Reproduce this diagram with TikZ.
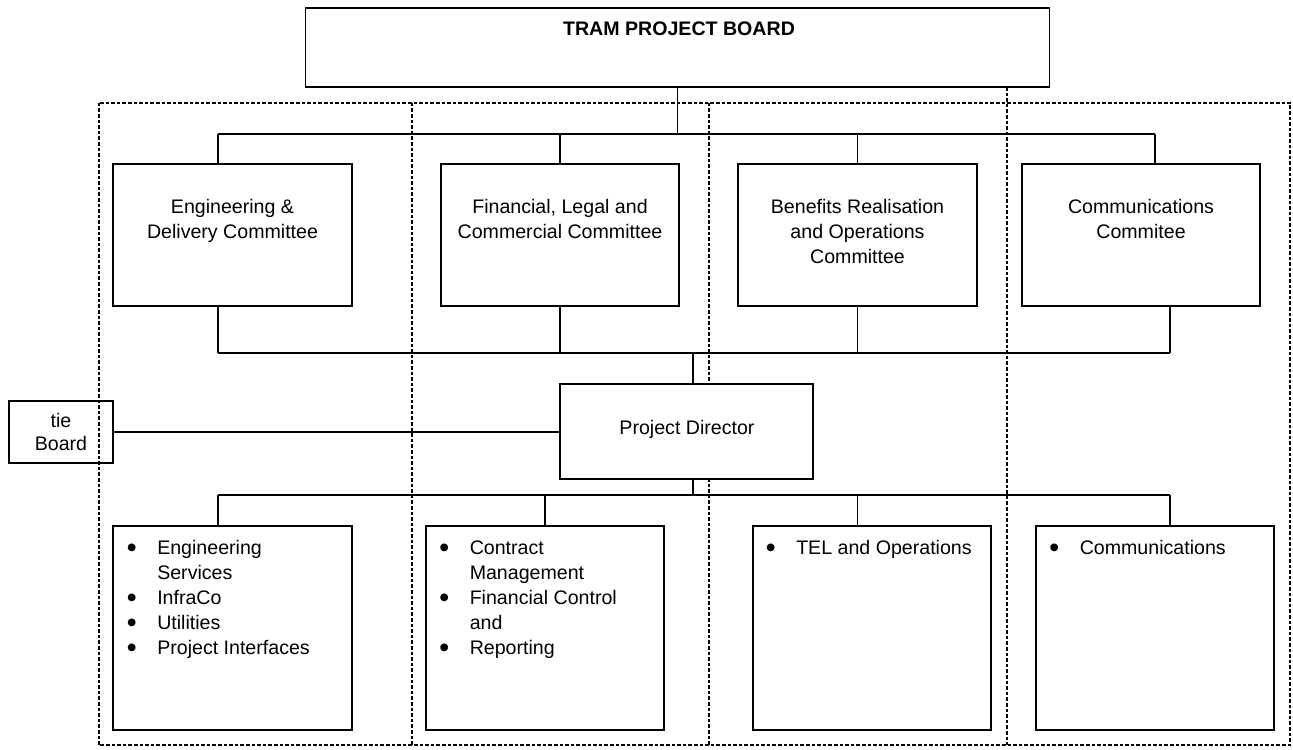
\documentclass[tikz,border=0pt]{standalone}
\usepackage{fontspec}
\setmainfont{Liberation Sans}
\newfontfamily\dejavu{DejaVu Sans}
\usetikzlibrary{calc}
\newcommand\bul{\smash{\raisebox{2.9pt}{\dejavu\fontsize{7.6}{0}\selectfont ●}}}
\begin{document}
\begin{tikzpicture}[x=0.75pt,y=-0.75pt,
  box/.style n args={2}{draw, line width=0.9pt, inner sep=0pt, fill=white,
     minimum width={#1*0.75pt}, minimum height={#2*0.75pt}},
  openbox/.style n args={2}{draw, line width=0.9pt, inner sep=0pt,
     minimum width={#1*0.75pt}, minimum height={#2*0.75pt}},
  link/.style={draw, line width=0.9pt},
  zone/.style={draw, line width=1.3pt, dash pattern=on 2.7pt off 1.5pt},
  txt/.style={inner sep=0pt, font=\fontsize{14.7}{18.75}\selectfont},
  btxt/.style={inner sep=0pt, font=\fontsize{14.7}{18.75}\selectfont\bfseries}]
\useasboundingbox (0,0) rectangle (1293,750);
\fill[white] (0,0) rectangle (1293,750);

% dashed zones
\draw[zone] (98.7,102.7) rectangle (1290,745);
\draw[zone] (412,102.7) -- (412,745);
\draw[zone] (708.7,102.7) -- (708.7,745);
\draw[zone] (1006.7,87) -- (1006.7,745);

% boxes
\node[box={744}{79}] (board) at (677.5,47.5) {};
\node[box={239}{142}] (eng) at (232.5,235) {};
\node[box={238}{142}] (fin) at (560,235) {};
\node[box={239}{142}] (ben) at (857.5,235) {};
\node[box={238}{142}] (com) at (1141,235) {};
\node[openbox={104}{62}] (tie) at (61,432) {};
\node[box={253}{95}] (pd) at (686.5,431.5) {};
\node[box={239}{204}] (la) at (232.5,628) {};
\node[box={238}{204}] (lb) at (545,628) {};
\node[box={238}{204}] (lc) at (872,628) {};
\node[box={238}{204}] (ld) at (1155,628) {};

% connectors: board to committees
\coordinate (t1) at (218,134);
\coordinate (t4) at (1155,134);
\draw[link] (t1) -- (t4);
\draw[link] (board.south) -- (board.south |- t1);
\draw[link] (t1) -- (t1 |- eng.north);
\draw[link] (fin.north) -- (fin.north |- t1);
\draw[link] (ben.north) -- (ben.north |- t1);
\draw[link] (t4) -- (t4 |- com.north);

% committees to project director
\coordinate (m1) at (218,353);
\coordinate (m2) at (693,353);
\coordinate (m4) at (1170,353);
\draw[link] (m1) -- (m4);
\draw[link] (m1 |- eng.south) -- (m1);
\draw[link] (fin.south) -- (fin.south |- m1);
\draw[link] (ben.south) -- (ben.south |- m1);
\draw[link] (m4 |- com.south) -- (m4);
\draw[link] (m2) -- (m2 |- pd.north);

% tie board
\draw[link] (tie.east) -- (tie.east -| pd.west);

% project director to work streams
\coordinate (l1) at (218,495);
\coordinate (l2) at (693,495);
\coordinate (l3) at (857.5,495);
\coordinate (l4) at (1170,495);
\draw[link] (l1) -- (l4);
\draw[link] (l2 |- pd.south) -- (l2);
\draw[link] (l1) -- (l1 |- la.north);
\draw[link] (lb.north) -- (lb.north |- l1);
\draw[link] (l3) -- (l3 |- lc.north);
\draw[link] (l4) -- (l4 |- ld.north);

% texts
\node[btxt, anchor=base] (boardT) at (679,35) {TRAM PROJECT BOARD};
\node[txt, anchor=base] (engT) at (232.5,213.5) {\begin{tabular}[t]{@{}c@{}}Engineering \&\\ Delivery Committee\end{tabular}};
\node[txt, anchor=base] (finT) at (560,213.5) {\begin{tabular}[t]{@{}c@{}}Financial, Legal and\\ Commercial Committee\end{tabular}};
\node[txt, anchor=base] (benT) at (857.5,213.5) {\begin{tabular}[t]{@{}c@{}}Benefits Realisation\\ and Operations\\ Committee\end{tabular}};
\node[txt, anchor=base] (comT) at (1141,213.5) {\begin{tabular}[t]{@{}c@{}}Communications\\ Commitee\end{tabular}};
\node[txt, anchor=base] (tieT) at (61,427) {\begin{tabular}[t]{@{}c@{}}tie\\[-1.3pt] Board\end{tabular}};
\node[txt, anchor=base] (pdT) at (687,434) {Project Director};

\node[txt, anchor=base west] (laT) at (127,554) {\begin{tabular}[t]{@{}p{22.5pt}@{}l@{}}
\bul & Engineering\\ & Services\\ \bul & InfraCo\\ \bul & Utilities\\ \bul & Project Interfaces\end{tabular}};
\node[txt, anchor=base west] (lbT) at (439.5,554) {\begin{tabular}[t]{@{}p{22.5pt}@{}l@{}}
\bul & Contract\\ & Management\\ \bul & Financial Control\\ & and\\ \bul & Reporting\end{tabular}};
\node[txt, anchor=base west] (lcT) at (766,554) {\begin{tabular}[t]{@{}p{22.5pt}@{}l@{}}
\bul & TEL and Operations\end{tabular}};
\node[txt, anchor=base west] (ldT) at (1049.5,554) {\begin{tabular}[t]{@{}p{22.5pt}@{}l@{}}
\bul & Communications\end{tabular}};
\end{tikzpicture}
\end{document}
